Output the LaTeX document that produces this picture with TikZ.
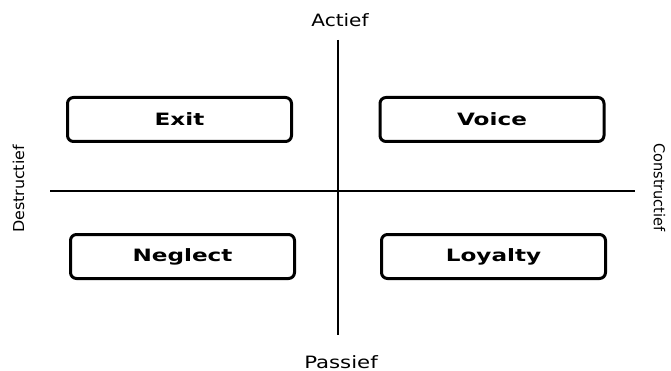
\documentclass[tikz,border=0pt]{standalone}
\usepackage{fontspec}
\setmainfont{DejaVu Sans}
\usepackage{graphicx}
\usetikzlibrary{positioning}

\newcommand{\widetext}[2][1.3]{\scalebox{#1}[1]{#2}}

\tikzset{
    quadbox/.style={draw, line width=3pt, rounded corners=6pt, minimum width=224pt, minimum height=44pt, font=\fontsize{17}{20}\selectfont\bfseries},
    axislabel/.style={font=\fontsize{17}{20}\selectfont, inner sep=0pt},
    sidelabel/.style={font=\fontsize{15}{18}\selectfont, inner sep=0pt}
}

\begin{document}
\begin{tikzpicture}[x=1pt, y=-1pt]
    \useasboundingbox (0,0) rectangle (671,371);

    % Axes
    \coordinate (top) at (338,40);
    \coordinate (bottom) at (338,335);
    \coordinate (left) at (50,191);
    \coordinate (right) at (635,191);
    \draw[line width=1.5pt] (top) -- (bottom);
    \draw[line width=1.5pt] (left) -- (right);

    % Axis labels
    \node[axislabel] (actief) at (340,20) {\widetext[1.18]{Actief}};
    \node[axislabel] (passief) at (341,362) {\widetext[1.25]{Passief}};
    \node[sidelabel, rotate=90] (destructief) at (18.5,189) {\widetext[1.06]{Destructief}};
    \node[sidelabel, rotate=-90] (constructief) at (659.5,187.5) {\widetext[0.97]{Constructief}};

    % Quadrants
    \node[quadbox] (exit) at (179.5,119.5) {\widetext[1.36]{Exit}};
    \node[quadbox] (voice) at (492,119.5) {\widetext[1.36]{Voice}};
    \node[quadbox] (neglect) at (182.5,256.5) {\widetext[1.36]{Neglect}};
    \node[quadbox] (loyalty) at (493.5,256.5) {\widetext[1.36]{Loyalty}};
\end{tikzpicture}
\end{document}
